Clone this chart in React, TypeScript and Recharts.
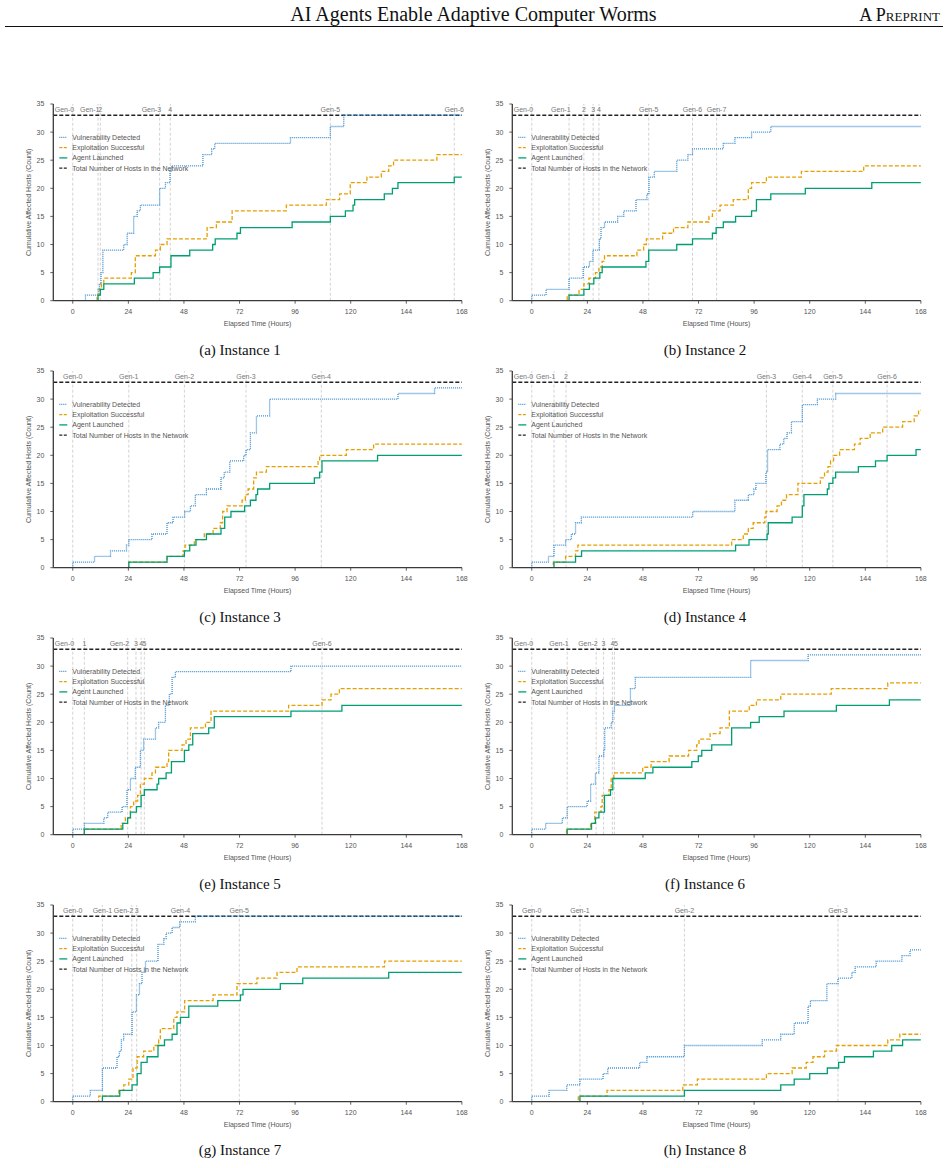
import React from "react";
import { LineChart, Line, XAxis, YAxis, ReferenceLine } from "recharts";

const SANS = "'Liberation Sans', Arial, Helvetica, sans-serif";
const SERIF = "'Liberation Serif', 'Times New Roman', Times, serif";

const HOUR_TICKS = [0, 24, 48, 72, 96, 120, 144, 168];
const COUNT_TICKS = [0, 5, 10, 15, 20, 25, 30, 35];
const TOTAL_HOSTS = 33;
const END_HOUR = 168;

const SERIES_NAMES = [
  "Vulnerability Detected",
  "Exploitation Successful",
  "Agent Launched",
  "Total Number of Hosts in the Network",
];
const CAPTIONS = [
  "(a) Instance 1", "(b) Instance 2", "(c) Instance 3", "(d) Instance 4",
  "(e) Instance 5", "(f) Instance 6", "(g) Instance 7", "(h) Instance 8",
];

// ---- Instance 1 ----
const i1GenHours = [0, 10.9, 11.9, 37.5, 42.1, 111.2, 164.7];
const i1GenLabels = ["Gen-0", "Gen-1", "2", "Gen-3", "4", "Gen-5", "Gen-6"];
const i1GenAnchor = ["end", "end", "middle", "end", "middle", "middle", "middle"];
const i1VulnHours = [0, 5.5, 11, 11.5, 12.2, 13, 22, 23.5, 26.3, 27.8, 29.2, 37.5, 40, 42, 42.6, 56.2, 60, 61.3, 94, 111.2, 117];
const i1VulnCounts = [0, 1, 2, 3, 5, 9, 10, 12, 15, 16, 17, 20, 21, 23, 24, 26, 27, 28, 29, 31, 33];
const i1ExplHours = [0, 10.5, 11.5, 12.4, 13.4, 25.3, 27, 35.7, 37.8, 40.7, 58, 62, 68.8, 92.2, 109.5, 115.2, 119.8, 127, 133.2, 136.4, 138.5, 157.2];
const i1ExplCounts = [0, 1, 2, 3, 4, 5, 8, 9, 10, 11, 13, 14, 16, 17, 18, 19, 21, 22, 23, 24, 25, 26];
const i1AgentHours = [0, 10.9, 11.9, 13.4, 26.6, 34.7, 37.5, 42.4, 50.5, 60.4, 61.5, 70.9, 72.4, 94.7, 111.2, 117.7, 121, 121.7, 134.5, 138, 140.4, 164.7];
const i1AgentCounts = [0, 1, 2, 3, 4, 5, 6, 8, 9, 10, 11, 12, 13, 14, 15, 16, 17, 18, 19, 20, 21, 22];

// ---- Instance 2 ----
const i2GenHours = [0, 16.1, 22.5, 26.5, 29, 50.5, 69.4, 79.8];
const i2GenLabels = ["Gen-0", "Gen-1", "2", "3", "4", "Gen-5", "Gen-6", "Gen-7"];
const i2GenAnchor = ["end", "end", "middle", "middle", "middle", "middle", "middle", "middle"];
const i2VulnHours = [0, 0, 6.2, 16.1, 22.2, 24.9, 26.4, 29.2, 29.9, 31.4, 37.1, 39.7, 45, 49.7, 50.6, 52.9, 62.6, 67.4, 69.4, 82.7, 87.7, 94.9, 103.2];
const i2VulnCounts = [0, 1, 2, 4, 6, 7, 9, 11, 13, 14, 15, 16, 18, 19, 22, 23, 25, 26, 27, 28, 29, 30, 31];
const i2ExplHours = [0, 15.3, 20.4, 22.5, 24.7, 27.5, 29, 30.4, 31.4, 45.4, 48.3, 49.5, 56.5, 61.2, 67.4, 76.5, 78, 81.3, 87, 93.5, 94.9, 101.3, 116.4, 143.3];
const i2ExplCounts = [0, 1, 2, 3, 4, 5, 6, 7, 8, 9, 10, 11, 12, 13, 14, 15, 16, 17, 18, 20, 21, 22, 23, 24];
const i2AgentHours = [0, 16.1, 22.5, 24.9, 26.8, 29.4, 30.4, 49.3, 50.5, 62.6, 69.4, 78, 79.6, 82.7, 88, 94.9, 97, 103.2, 118.1, 146.8];
const i2AgentCounts = [0, 1, 2, 3, 4, 5, 6, 7, 9, 10, 11, 12, 13, 14, 15, 16, 18, 19, 20, 21];

// ---- Instance 3 ----
const i3GenHours = [0, 24.2, 48.2, 74.8, 107.3];
const i3GenLabels = ["Gen-0", "Gen-1", "Gen-2", "Gen-3", "Gen-4"];
const i3GenAnchor = ["middle", "middle", "middle", "middle", "middle"];
const i3VulnHours = [0, 0, 9.4, 16.3, 23.2, 24.2, 34.2, 40.7, 43.3, 48.3, 50.8, 52.9, 57.7, 64, 65.4, 67.8, 73.8, 74.8, 76.7, 79.3, 85, 140.4, 156.2];
const i3VulnCounts = [0, 1, 2, 3, 4, 5, 6, 8, 9, 10, 11, 13, 14, 16, 17, 19, 20, 21, 24, 27, 30, 31, 32];
const i3ExplHours = [0, 24.2, 40.7, 47.6, 48.5, 52.5, 56.8, 60.6, 63.7, 64.7, 66.6, 73.1, 74.5, 75.7, 78.1, 79.3, 83.6, 105.9, 106.6, 118.1, 129.9];
const i3ExplCounts = [0, 1, 2, 3, 4, 5, 6, 7, 8, 10, 11, 12, 13, 14, 16, 17, 18, 19, 20, 21, 22];
const i3AgentHours = [0, 24.2, 40.7, 48.2, 50.5, 53.2, 57.7, 64, 65.6, 68.3, 74.2, 76.7, 79.1, 79.8, 85, 104.3, 106.6, 107.6, 131.6];
const i3AgentCounts = [0, 1, 2, 3, 4, 5, 6, 7, 9, 10, 11, 12, 13, 14, 15, 16, 17, 19, 20];

// ---- Instance 4 ----
const i4GenHours = [0, 9.6, 14.8, 101.3, 116.8, 130, 153.4];
const i4GenLabels = ["Gen-0", "Gen-1", "2", "Gen-3", "Gen-4", "Gen-5", "Gen-6"];
const i4GenAnchor = ["end", "end", "middle", "middle", "middle", "middle", "middle"];
const i4VulnHours = [0, 0, 7.2, 9.6, 14.6, 17.1, 18.9, 21.4, 69.5, 87.7, 93.5, 95.9, 96.8, 101.1, 101.8, 107.1, 108.8, 110.2, 112.1, 116.8, 123.3, 131.2];
const i4VulnCounts = [0, 1, 2, 4, 5, 6, 8, 9, 10, 12, 13, 14, 15, 17, 21, 22, 23, 24, 26, 29, 30, 31];
const i4ExplHours = [0, 9.3, 14.6, 18.9, 19.9, 86.3, 91.3, 93.5, 95.6, 100.6, 101.1, 105.9, 107.8, 110, 114.9, 124.6, 126.4, 127.9, 129, 130.3, 132.9, 139.3, 141.8, 146.1, 151.5, 160.1, 165.1, 167];
const i4ExplCounts = [0, 1, 2, 3, 4, 5, 6, 7, 8, 9, 10, 11, 12, 13, 15, 16, 17, 18, 19, 20, 21, 22, 23, 24, 25, 26, 27, 28];
const i4AgentHours = [0, 9.6, 18.9, 21.5, 88, 93.8, 101.6, 102.1, 112.4, 116.8, 117.5, 127.6, 128.3, 130, 131.2, 141, 148.4, 153.4, 165.9];
const i4AgentCounts = [0, 1, 2, 3, 4, 5, 6, 8, 9, 11, 13, 14, 15, 16, 17, 18, 19, 20, 21];

// ---- Instance 5 ----
const i5GenHours = [0, 5, 23.7, 27.3, 29.5, 30.9, 107.6];
const i5GenLabels = ["Gen-0", "1", "Gen-2", "3", "4", "5", "Gen-6"];
const i5GenAnchor = ["end", "middle", "end", "middle", "middle", "middle", "middle"];
const i5VulnHours = [0, 0, 5, 13.4, 15.1, 21.3, 23.4, 24.9, 27, 29.2, 30.6, 35.7, 37.1, 40, 41.7, 42.9, 44.3, 94.2];
const i5VulnCounts = [0, 1, 2, 3, 4, 5, 8, 10, 12, 15, 17, 19, 20, 23, 25, 28, 29, 30];
const i5ExplHours = [0, 5, 20.9, 22.7, 24.9, 26.3, 28, 29.2, 30.9, 34.2, 35.7, 40.7, 41.4, 47.2, 48.9, 50.8, 57.3, 59.7, 93.2, 107.6, 111.5, 115.1];
const i5ExplCounts = [0, 1, 2, 3, 5, 6, 7, 9, 10, 11, 12, 13, 15, 16, 17, 19, 20, 22, 23, 24, 25, 26];
const i5AgentHours = [0, 5, 21.6, 23.7, 24.9, 27.5, 29.5, 30.9, 36.4, 37.1, 40.3, 42.6, 48.2, 50.1, 51.8, 58.7, 61.1, 94.2, 116.2];
const i5AgentCounts = [0, 1, 2, 3, 4, 5, 7, 8, 9, 10, 11, 13, 15, 16, 18, 19, 21, 22, 23];

// ---- Instance 6 ----
const i6GenHours = [0, 15.3, 27.8, 31, 34.8, 35.7];
const i6GenLabels = ["Gen-0", "Gen-1", "Gen-2", "3", "4", "5"];
const i6GenAnchor = ["end", "end", "end", "middle", "middle", "start"];
const i6VulnHours = [0, 0, 6, 13.2, 15.3, 23.9, 25.4, 27.5, 29, 31.1, 31.5, 34.3, 35, 35.7, 42.6, 44.7, 94.5, 119.3];
const i6VulnCounts = [0, 1, 2, 3, 5, 6, 9, 11, 14, 15, 19, 20, 22, 23, 26, 28, 31, 32];
const i6ExplHours = [0, 15, 25.4, 27.2, 29.9, 30.4, 33.3, 34.3, 35.4, 47.9, 51.5, 59.3, 67.7, 71.2, 72.2, 77, 81.3, 85.3, 93.9, 97, 107.5, 129.3, 153.7];
const i6ExplCounts = [0, 1, 2, 4, 5, 7, 8, 10, 11, 12, 13, 14, 15, 16, 17, 18, 19, 22, 23, 24, 25, 26, 27];
const i6AgentHours = [0, 15.3, 25.8, 27.5, 29, 31.4, 34, 35, 49, 52.3, 69.1, 71.9, 73.4, 77.7, 86.3, 94.5, 98.2, 108.9, 131.5, 154.4];
const i6AgentCounts = [0, 1, 2, 3, 4, 7, 8, 10, 11, 12, 13, 14, 15, 16, 19, 20, 21, 22, 23, 24];

// ---- Instance 7 ----
const i7GenHours = [0, 12.8, 25.5, 27.6, 46.5, 71.9];
const i7GenLabels = ["Gen-0", "Gen-1", "Gen-2", "3", "Gen-4", "Gen-5"];
const i7GenAnchor = ["middle", "middle", "end", "middle", "middle", "middle"];
const i7VulnHours = [0, 0, 7.6, 12.8, 19.1, 20.1, 21, 22, 25.6, 27.5, 28.8, 29.9, 31.4, 36.8, 39.3, 40.3, 42.9, 46.2, 52.9];
const i7VulnCounts = [0, 1, 2, 6, 8, 9, 11, 12, 16, 19, 21, 23, 25, 28, 29, 30, 31, 32, 33];
const i7ExplHours = [0, 11.2, 19.9, 22, 24.2, 26, 27.8, 30.6, 35, 37.1, 37.8, 43.6, 45, 48.3, 60.6, 70.9, 79.5, 88.2, 96.8, 134.6];
const i7ExplCounts = [0, 1, 2, 3, 4, 6, 8, 9, 10, 11, 13, 15, 16, 18, 19, 21, 22, 23, 24, 25];
const i7AgentHours = [0, 12.8, 20.3, 25.6, 27.8, 29.5, 32.1, 36.8, 39.6, 42.9, 45, 46.5, 50.1, 62.6, 72.4, 73.5, 89.6, 99.3, 136.4];
const i7AgentCounts = [0, 1, 2, 3, 5, 7, 8, 10, 11, 12, 14, 15, 17, 18, 19, 20, 21, 22, 23];

// ---- Instance 8 ----
const i8GenHours = [0, 20.8, 65.9, 132.2];
const i8GenLabels = ["Gen-0", "Gen-1", "Gen-2", "Gen-3"];
const i8GenAnchor = ["middle", "middle", "middle", "middle"];
const i8VulnHours = [0, 0, 7.5, 15.1, 20.8, 30.8, 32.8, 46.6, 49.7, 65.9, 99.5, 107.5, 113.3, 119.3, 120.3, 127.4, 132.2, 138.2, 139.6, 148.7, 159.8, 163.3];
const i8VulnCounts = [0, 1, 2, 3, 4, 5, 6, 7, 8, 10, 11, 12, 14, 17, 18, 21, 22, 23, 24, 25, 26, 27];
const i8ExplHours = [0, 20.1, 32.5, 65.2, 71.5, 101.3, 112.4, 118.5, 121.4, 126.4, 131.5, 153.7, 158.9];
const i8ExplCounts = [0, 1, 2, 3, 4, 5, 6, 7, 8, 9, 10, 11, 12];
const i8AgentHours = [0, 20.8, 65.9, 107.5, 113.3, 120, 127.6, 132.5, 135, 147.5, 155.4, 160.1];
const i8AgentCounts = [0, 1, 2, 3, 4, 5, 6, 7, 8, 9, 10, 11];

type Pt = { t: number; v: number };

// Cumulative step series; the last count is held until the end of the window.
function steps(hours: number[], counts: number[]): Pt[] {
  const pts = hours.map((t, i) => ({ t, v: counts[i] }));
  pts.push({ t: END_HOUR, v: counts[counts.length - 1] });
  return pts;
}

const PANELS = [
  { gens: i1GenHours, labels: i1GenLabels, anchors: i1GenAnchor, vuln: steps(i1VulnHours, i1VulnCounts), expl: steps(i1ExplHours, i1ExplCounts), agent: steps(i1AgentHours, i1AgentCounts) },
  { gens: i2GenHours, labels: i2GenLabels, anchors: i2GenAnchor, vuln: steps(i2VulnHours, i2VulnCounts), expl: steps(i2ExplHours, i2ExplCounts), agent: steps(i2AgentHours, i2AgentCounts) },
  { gens: i3GenHours, labels: i3GenLabels, anchors: i3GenAnchor, vuln: steps(i3VulnHours, i3VulnCounts), expl: steps(i3ExplHours, i3ExplCounts), agent: steps(i3AgentHours, i3AgentCounts) },
  { gens: i4GenHours, labels: i4GenLabels, anchors: i4GenAnchor, vuln: steps(i4VulnHours, i4VulnCounts), expl: steps(i4ExplHours, i4ExplCounts), agent: steps(i4AgentHours, i4AgentCounts) },
  { gens: i5GenHours, labels: i5GenLabels, anchors: i5GenAnchor, vuln: steps(i5VulnHours, i5VulnCounts), expl: steps(i5ExplHours, i5ExplCounts), agent: steps(i5AgentHours, i5AgentCounts) },
  { gens: i6GenHours, labels: i6GenLabels, anchors: i6GenAnchor, vuln: steps(i6VulnHours, i6VulnCounts), expl: steps(i6ExplHours, i6ExplCounts), agent: steps(i6AgentHours, i6AgentCounts) },
  { gens: i7GenHours, labels: i7GenLabels, anchors: i7GenAnchor, vuln: steps(i7VulnHours, i7VulnCounts), expl: steps(i7ExplHours, i7ExplCounts), agent: steps(i7AgentHours, i7AgentCounts) },
  { gens: i8GenHours, labels: i8GenLabels, anchors: i8GenAnchor, vuln: steps(i8VulnHours, i8VulnCounts), expl: steps(i8ExplHours, i8ExplCounts), agent: steps(i8AgentHours, i8AgentCounts) },
];

const BLUE = "#3d8fd1";
const ORANGE = "#E69F00";
const GREEN = "#009E73";
const BLACK = "#222222";
const AXIS = "#3a3a3a";
const TEXT = "#555555";

const CHART_W = 470;
const CHART_H = 260;
const MARGIN = { top: 8, right: 8.1, bottom: 25.3, left: 0 };
const Y_AXIS_W = 53.3;
const X_AXIS_H = 30;
const COL_LEFT = [0, 459];
const ROW_TOP = [96, 363, 630, 897];
const CAPTION_X = [240, 705];
const CAPTION_Y = [350, 617, 884, 1150];

function GenTag(props: any) {
  const { viewBox, text, anchor } = props;
  if (!viewBox) return null;
  const dx = anchor === "end" ? 1.5 : anchor === "start" ? -0.5 : 0;
  return (
    <text x={viewBox.x + dx} y={viewBox.y + 8.2} textAnchor={anchor} fontSize={7} fill="#777" fontFamily={SANS}>
      {text}
    </text>
  );
}

function XTitle(props: any) {
  const { viewBox } = props;
  if (!viewBox) return null;
  return (
    <text x={viewBox.x + viewBox.width / 2} y={viewBox.y + 25.5} textAnchor="middle" fontSize={7} fill={TEXT} fontFamily={SANS}>
      Elapsed Time (Hours)
    </text>
  );
}

function YTitle(props: any) {
  const { viewBox } = props;
  if (!viewBox) return null;
  const cx = 28.5;
  const cy = viewBox.y + viewBox.height / 2;
  return (
    <text transform={`translate(${cx},${cy}) rotate(-90)`} dy="0.35em" textAnchor="middle" fontSize={7} fill={TEXT} fontFamily={SANS}>
      Cumulative Affected Hosts (Count)
    </text>
  );
}

function LegendBox() {
  const x0 = Y_AXIS_W + 6;
  const x1 = Y_AXIS_W + 14;
  const tx = Y_AXIS_W + 19;
  const styles = [
    { stroke: BLUE, dash: "1 1" },
    { stroke: ORANGE, dash: "3 1.5" },
    { stroke: GREEN, dash: undefined },
    { stroke: BLACK, dash: "3 1.5" },
  ];
  return (
    <svg width={CHART_W} height={CHART_H} style={{ position: "absolute", left: 0, top: 0, pointerEvents: "none" }}>
      {SERIES_NAMES.map((name, i) => {
        const y = MARGIN.top + 33.3 + i * 10.3;
        return (
          <g key={name}>
            <line x1={x0} x2={x1} y1={y} y2={y} stroke={styles[i].stroke} strokeWidth={1.3} strokeDasharray={styles[i].dash} />
            <text x={tx} y={y + 2.5} fontSize={7} fill={TEXT} fontFamily={SANS}>{name}</text>
          </g>
        );
      })}
    </svg>
  );
}

function Panel({ index }: { index: number }) {
  const p = PANELS[index];
  const left = COL_LEFT[index % 2];
  const top = ROW_TOP[Math.floor(index / 2)];
  return (
    <div style={{ position: "absolute", left, top, width: CHART_W, height: CHART_H }}>
      <LineChart width={CHART_W} height={CHART_H} margin={MARGIN}>
        <XAxis
          type="number"
          dataKey="t"
          domain={[-8.4, END_HOUR]}
          allowDataOverflow
          ticks={HOUR_TICKS}
          height={X_AXIS_H}
          tickSize={3}
          tickMargin={5}
          tick={{ fontSize: 7, fill: TEXT, fontFamily: SANS }}
          axisLine={{ stroke: AXIS, strokeWidth: 1.3 }}
          tickLine={{ stroke: AXIS, strokeWidth: 0.8 }}
          label={<XTitle />}
        />
        <YAxis
          type="number"
          domain={[0, 35]}
          allowDataOverflow
          ticks={COUNT_TICKS}
          width={Y_AXIS_W}
          tickSize={3}
          tickMargin={6}
          tick={{ fontSize: 7, fill: TEXT, fontFamily: SANS }}
          axisLine={{ stroke: AXIS, strokeWidth: 1.3 }}
          tickLine={{ stroke: AXIS, strokeWidth: 0.8 }}
          label={<YTitle />}
        />
        {p.gens.map((g, i) => (
          <ReferenceLine
            key={`gen-${i}`}
            x={g}
            stroke="#cdcdcd"
            strokeWidth={0.9}
            strokeDasharray="3 2"
            label={<GenTag text={p.labels[i]} anchor={p.anchors[i]} />}
          />
        ))}
        <ReferenceLine y={TOTAL_HOSTS} stroke={BLACK} strokeWidth={1.3} strokeDasharray="4 2" />
        <Line data={p.vuln} dataKey="v" type="stepAfter" stroke={BLUE} strokeWidth={1.3} strokeDasharray="1 1" dot={false} activeDot={false} isAnimationActive={false} />
        <Line data={p.expl} dataKey="v" type="stepAfter" stroke={ORANGE} strokeWidth={1.3} strokeDasharray="4 2" dot={false} activeDot={false} isAnimationActive={false} />
        <Line data={p.agent} dataKey="v" type="stepAfter" stroke={GREEN} strokeWidth={1.3} dot={false} activeDot={false} isAnimationActive={false} />
      </LineChart>
      <LegendBox />
    </div>
  );
}

export default function App() {
  return (
    <div style={{ position: "absolute", left: 0, top: 0, width: 948, height: 1168, background: "#fff", overflow: "hidden" }}>
      <div style={{ position: "absolute", left: 0, top: 2, width: 947, textAlign: "center", fontFamily: SERIF, fontSize: 20, lineHeight: "24px", color: "#111" }}>
        AI Agents Enable Adaptive Computer Worms
      </div>
      <div style={{ position: "absolute", right: 8, top: 3, fontFamily: SERIF, fontSize: 18, lineHeight: "24px", fontVariant: "small-caps", color: "#111" }}>
        A Preprint
      </div>
      <div style={{ position: "absolute", left: 5, top: 26, width: 938, height: 1, background: "#111" }} />
      {PANELS.map((_, i) => (
        <Panel key={i} index={i} />
      ))}
      {CAPTIONS.map((c, i) => (
        <div
          key={c}
          style={{
            position: "absolute",
            left: CAPTION_X[i % 2] - 150,
            top: CAPTION_Y[Math.floor(i / 2)] - 10,
            width: 300,
            textAlign: "center",
            fontFamily: SERIF,
            fontSize: 15,
            lineHeight: "20px",
            color: "#111",
          }}
        >
          {c}
        </div>
      ))}
    </div>
  );
}
